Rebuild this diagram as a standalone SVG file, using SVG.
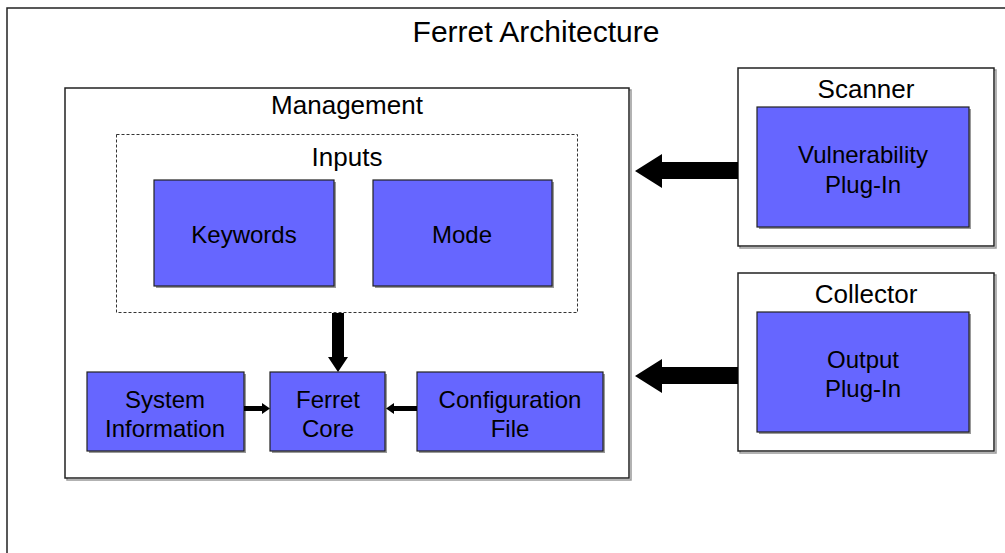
<svg xmlns="http://www.w3.org/2000/svg" width="1005" height="553" viewBox="0 0 1005 553">
<style>
text{font-family:"Liberation Sans",Arial,sans-serif;fill:#000;text-anchor:middle}
.t30{font-size:30px}.t26{font-size:26px}.t24{font-size:24px}
.box{fill:#fff;stroke:#222;stroke-width:1.5}
.sh{fill:none;stroke:#999;stroke-width:1.5}
.node{fill:#6666FF;stroke:#222;stroke-width:1.2}
.nsh{fill:#999}
.dash{fill:none;stroke:#333;stroke-width:1;stroke-dasharray:3,2}
.arr{fill:#000}
</style>
<rect width="1005" height="553" fill="#fff"/>
<g id="frame">
<rect x="7" y="8" width="1010" height="560" class="box"/>
<text x="536" y="42" class="t30">Ferret Architecture</text>
</g>
<g id="management">
<rect x="67" y="90" width="564" height="390" class="sh"/>
<rect x="65" y="88" width="564" height="390" class="box"/>
<text x="347" y="114" class="t26">Management</text>
</g>
<g id="inputs">
<rect x="116.5" y="134.5" width="461" height="178" class="dash"/>
<text x="347" y="166" class="t26">Inputs</text>
</g>
<g id="keywords">
<rect x="156" y="182" width="180" height="106" class="nsh"/>
<rect x="154" y="180" width="180" height="106" class="node"/>
<text x="244" y="243" class="t24">Keywords</text>
</g>
<g id="mode">
<rect x="375" y="182" width="179" height="106" class="nsh"/>
<rect x="373" y="180" width="179" height="106" class="node"/>
<text x="462" y="243" class="t24">Mode</text>
</g>
<g id="system-information">
<rect x="89" y="374" width="157" height="79" class="nsh"/>
<rect x="87" y="372" width="157" height="79" class="node"/>
<text x="165" y="408" class="t24">System</text>
<text x="165" y="437" class="t24">Information</text>
</g>
<g id="ferret-core">
<rect x="272" y="374" width="115" height="79" class="nsh"/>
<rect x="270" y="372" width="115" height="79" class="node"/>
<text x="328" y="408" class="t24">Ferret</text>
<text x="328" y="437" class="t24">Core</text>
</g>
<g id="configuration-file">
<rect x="419" y="374" width="186" height="79" class="nsh"/>
<rect x="417" y="372" width="186" height="79" class="node"/>
<text x="510" y="408" class="t24">Configuration</text>
<text x="510" y="437" class="t24">File</text>
</g>
<g id="scanner">
<rect x="740" y="70" width="256" height="178" class="sh"/>
<rect x="738" y="68" width="256" height="178" class="box"/>
<text x="866" y="98" class="t26">Scanner</text>
</g>
<g id="vulnerability-plugin">
<rect x="759" y="109" width="212" height="120" class="nsh"/>
<rect x="757" y="107" width="212" height="120" class="node"/>
<text x="863" y="163" class="t24">Vulnerability</text>
<text x="863" y="193" class="t24">Plug-In</text>
</g>
<g id="collector">
<rect x="740" y="275" width="256" height="178" class="sh"/>
<rect x="738" y="273" width="256" height="178" class="box"/>
<text x="866" y="303" class="t26">Collector</text>
</g>
<g id="output-plugin">
<rect x="759" y="314" width="212" height="120" class="nsh"/>
<rect x="757" y="312" width="212" height="120" class="node"/>
<text x="863" y="368" class="t24">Output</text>
<text x="863" y="397" class="t24">Plug-In</text>
</g>
<g id="connectors">
<polygon class="arr" points="738,162 662,162 662,154 635,171 662,188 662,179 738,179"/>
<polygon class="arr" points="738,367 662,367 662,359 635,376 662,393 662,384 738,384"/>
<polygon class="arr" points="332,313 344,313 344,357 348,357 338,372 328,357 332,357"/>
<polygon class="arr" points="244,406 262,406 262,403 270,408.5 262,414 262,411 244,411"/>
<polygon class="arr" points="417,406 394,406 394,403 386,408.5 394,414 394,411 417,411"/>
</g>
</svg>
